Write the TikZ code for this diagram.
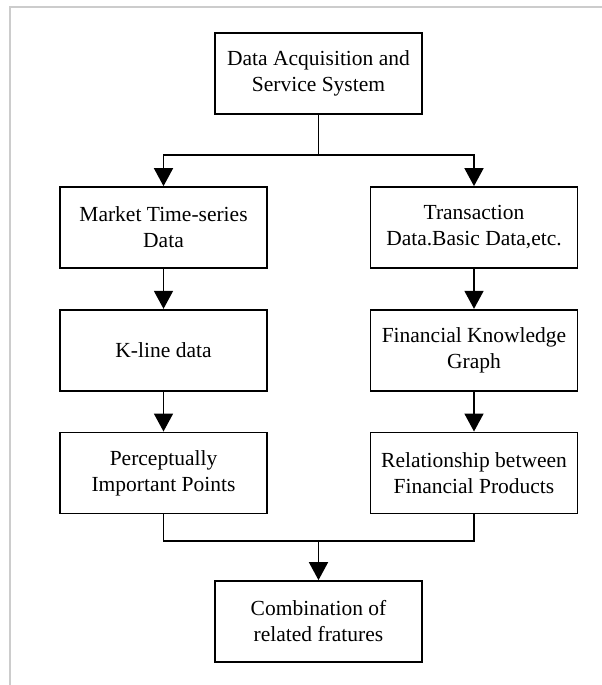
\documentclass[tikz,border=0pt]{standalone}
\usepackage{fontspec}
\setmainfont{Liberation Serif}
\usetikzlibrary{arrows.meta,positioning}

\begin{document}
\begin{tikzpicture}[x=1pt,y=1pt,line width=1.7pt,
			>={Triangle[length=18pt,width=19pt]},node distance=40pt,
			box/.style={draw,line width=1.7pt,minimum width=207pt,minimum height=81pt,
				align=center,inner sep=2pt,font=\fontsize{21.5}{26}\selectfont}]
			\useasboundingbox (0,0) rectangle (602,685);
			\draw[black!20,line width=2.5pt] (10,0) -- (10,678) -- (602,678);
			\node[box] (DAS) at (318.5,611.5) {Data Acquisition and\\Service System};
			\node[box] (MTS) at (163.5,457.5) {Market Time-series\\Data};
			\node[box] (KLD) [below=of MTS] {K-line data};
			\node[box] (PIP) [below=of KLD] {Perceptually\\Important Points};
			\node[box] (TBD) at (474,457.5) {Transaction\\Data.Basic Data,etc.};
			\node[box] (FKG) [below=of TBD] {Financial Knowledge\\Graph};
			\node[box] (RFP) [below=of FKG] {Relationship between\\Financial Products};
			\node[box] (CRF) at (318.5,63.5) {Combination of\\related fratures};
			\coordinate (split) at (318.5,530);
			\coordinate (merge) at (318.5,144);
			% split into the two columns
			\draw (DAS.south) -- (split);
			\draw[->] (split) -| (MTS.north);
			\draw[->] (split) -| (TBD.north);
			\draw[->] (MTS) -- (KLD);
			\draw[->] (KLD) -- (PIP);
			\draw[->] (TBD) -- (FKG);
			\draw[->] (FKG) -- (RFP);
			% join the two columns
			\draw (PIP.south) |- (merge) -| (RFP.south);
			\draw[->] (merge) -- (CRF.north);
		\end{tikzpicture}
\end{document}
